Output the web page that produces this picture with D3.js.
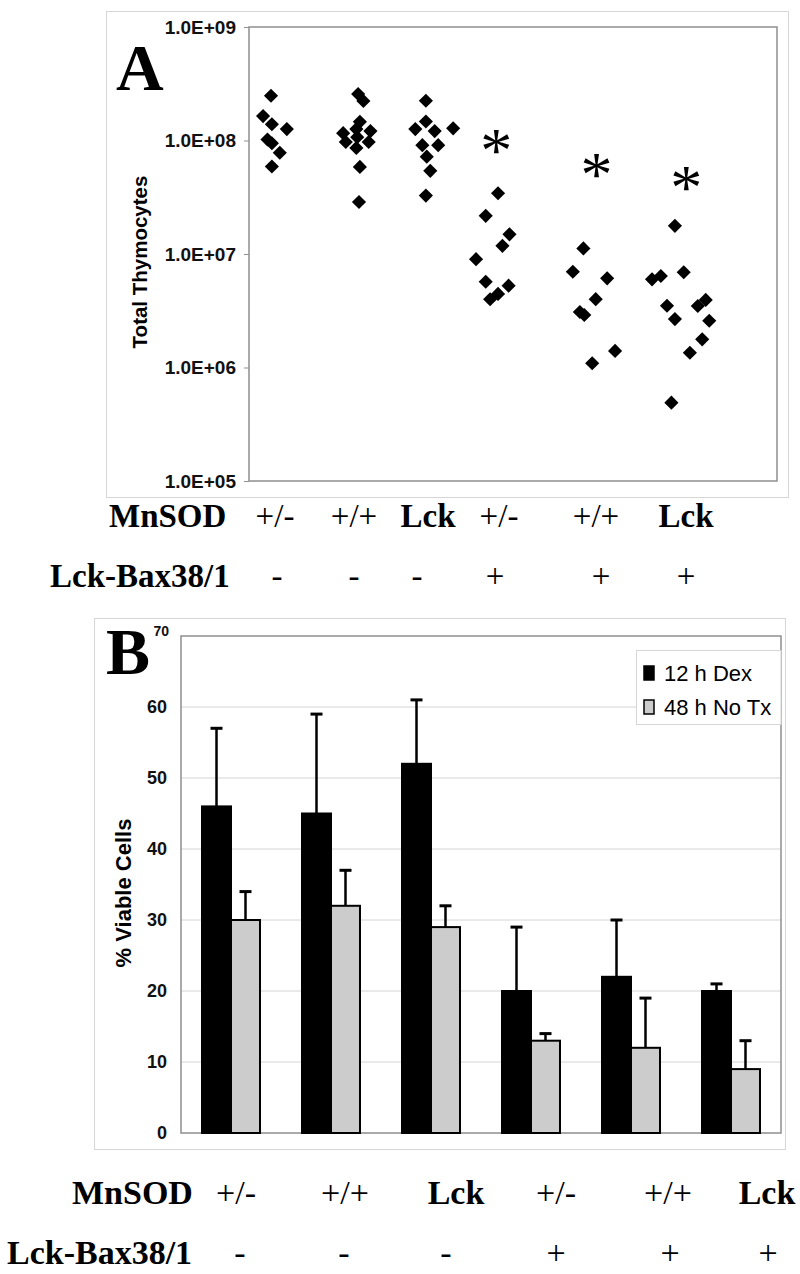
<!DOCTYPE html>
<html><head><meta charset="utf-8">
<script src="https://cdn.jsdelivr.net/npm/d3@7"></script>
<style>body{margin:0;background:#fff} svg{display:block}</style>
</head><body>
<svg id="c" width="800" height="1274"></svg>
<script>
// ---------- Panel A data ----------
const mnsodLabels = ["+/-","+/+","Lck","+/-","+/+","Lck"];
const baxLabels = ["-","-","-","+","+","+"];
const yTickValuesA = [1e5,1e6,1e7,1e8,1e9];
const yTickLabelsA = ["1.0E+05","1.0E+06","1.0E+07","1.0E+08","1.0E+09"];
// x = jittered group position, y = total thymocytes
const g1x = [0.25,0.16,0.26,0.43,0.21,0.26,0.35,0.26];
const g1y = [2.48e8,1.64e8,1.39e8,1.26e8,1.02e8,9.45e7,7.8e7,5.9e7];
const g2x = [1.24,1.30,1.26,1.07,1.38,1.22,1.10,1.36,1.23,1.22,1.26,1.25];
const g2y = [2.57e8,2.23e8,1.46e8,1.16e8,1.21e8,1.26e8,9.7e7,9.7e7,1.07e8,8.6e7,5.85e7,2.87e7];
const g3x = [2.01,2.01,1.89,2.11,2.32,1.97,2.15,2.02,2.06,2.01];
const g3y = [2.24e8,1.47e8,1.26e8,1.21e8,1.28e8,9.1e7,9.1e7,7.2e7,5.4e7,3.27e7];
const g4x = [2.83,2.69,2.96,2.88,2.58,2.69,2.95,2.83,2.74];
const g4y = [3.43e7,2.17e7,1.49e7,1.18e7,9.0e6,5.7e6,5.26e6,4.45e6,3.99e6];
const g5x = [3.80,3.68,4.07,3.94,3.76,3.81,4.16,3.90];
const g5y = [1.12e7,6.98e6,6.1e6,4.0e6,3.08e6,2.9e6,1.40e6,1.09e6];
const g6x = [4.84,4.94,4.58,4.68,4.75,4.84,5.10,5.19,5.23,5.15,5.01,4.80];
const g6y = [1.77e7,6.9e6,5.98e6,6.4e6,3.5e6,2.67e6,3.48e6,3.94e6,2.58e6,1.77e6,1.35e6,4.9e5];
const starX = [2.81,3.95,4.97];
const starY = [9.5e7,5.85e7,4.5e7];

// ---------- Panel B data ----------
const seriesB = ["12 h Dex","48 h No Tx"];
const dexMean = [46,45,52,20,22,20];
const dexErr  = [11,14,9,9,8,1];
const noTxMean = [30,32,29,13,12,9];
const noTxErr  = [4,5,3,1,7,4];
const yTicksB = [0,10,20,30,40,50,60,70];

// ---------- Layout ----------
const svg = d3.select("#c");
const SANS = "Arial, 'Liberation Sans', sans-serif";
const SERIF = "'Times New Roman', 'Liberation Serif', serif";

// ===== Panel A =====
const A = {left:249, right:777, top:27, bottom:481};
svg.append("rect").attr("x",106.5).attr("y",11.5).attr("width",682).attr("height",486)
  .attr("fill","none").attr("stroke","#d6d6d6").attr("stroke-width",1);
const xA = d3.scaleLinear().domain([0,6]).range([A.left,A.right]);
const yA = d3.scaleLog().domain([1e5,1e9]).range([A.bottom,A.top]);

svg.append("rect").attr("x",A.left).attr("y",A.top).attr("width",A.right-A.left).attr("height",A.bottom-A.top)
  .attr("fill","none").attr("stroke","#8f8f8f").attr("stroke-width",1.5);

const axA = svg.append("g").attr("transform",`translate(${A.left},0)`)
  .call(d3.axisLeft(yA).tickValues(yTickValuesA).tickFormat((d,i)=>yTickLabelsA[i]).tickSize(5).tickPadding(8));
axA.select(".domain").remove();
axA.selectAll(".tick line").attr("stroke","#8f8f8f");
axA.selectAll(".tick text").attr("font-family",SANS).attr("font-weight","bold").attr("font-size",19).attr("fill","#111");

svg.append("text").attr("transform","translate(147,262) rotate(-90)").attr("text-anchor","middle")
  .attr("font-family",SANS).attr("font-weight","bold").attr("font-size",20.5).text("Total Thymocytes");
svg.append("text").attr("x",116).attr("y",90).attr("font-family",SERIF).attr("font-weight","bold")
  .attr("font-size",66).text("A");

const groups = [[g1x,g1y],[g2x,g2y],[g3x,g3y],[g4x,g4y],[g5x,g5y],[g6x,g6y]];
const pts = groups.flatMap(([xs,ys]) => xs.map((x,i)=>({x, y:ys[i]})));
const diamond = d3.symbol().type(d3.symbolSquare).size(100);
svg.append("g").selectAll("path").data(pts).join("path")
  .attr("d",diamond)
  .attr("transform",d=>`translate(${xA(d.x)},${yA(d.y)}) rotate(45)`)
  .attr("fill","#000");

svg.append("g").selectAll("text").data(starX).join("text")
  .attr("x",d=>xA(d)).attr("y",(d,i)=>yA(starY[i])+29)
  .attr("text-anchor","middle").attr("font-family",SERIF).attr("font-size",64).text("*");

// category rows A
const rowA1 = [275,354,428,499,596,686];
const rowA2 = [277,354,417,495,601,686];
svg.append("text").attr("x",109).attr("y",527).attr("font-family",SERIF).attr("font-weight","bold").attr("font-size",33).text("MnSOD");
svg.append("text").attr("x",50).attr("y",587).attr("font-family",SERIF).attr("font-weight","bold").attr("font-size",33).text("Lck-Bax38/1");
svg.append("g").selectAll("text").data(mnsodLabels).join("text")
  .attr("x",(d,i)=>rowA1[i]).attr("y",527).attr("text-anchor","middle")
  .attr("font-family",SERIF).attr("font-weight",d=>d==="Lck"?"bold":"normal").attr("font-size",33).text(d=>d);
svg.append("g").selectAll("text").data(baxLabels).join("text")
  .attr("x",(d,i)=>rowA2[i]).attr("y",587).attr("text-anchor","middle")
  .attr("font-family",SERIF).attr("font-size",33).text(d=>d);

// ===== Panel B =====
const B = {left:181, right:781, top:636, bottom:1133};
svg.append("rect").attr("x",94.5).attr("y",618.5).attr("width",691).attr("height",531)
  .attr("fill","none").attr("stroke","#d6d6d6").attr("stroke-width",1);
const x0 = d3.scaleBand().domain(d3.range(6)).range([B.left,B.right]).paddingInner(0.42).paddingOuter(0.21);
const x1 = d3.scaleBand().domain([0,1]).range([0,x0.bandwidth()]);
const yB = d3.scaleLinear().domain([0,70]).range([B.bottom,B.top]);

svg.append("g").selectAll("line").data(yTicksB.filter(d=>d>0&&d<70)).join("line")
  .attr("x1",B.left).attr("x2",B.right).attr("y1",d=>yB(d)).attr("y2",d=>yB(d))
  .attr("stroke","#d4d4d4").attr("stroke-width",1);
svg.append("rect").attr("x",B.left).attr("y",B.top).attr("width",B.right-B.left).attr("height",B.bottom-B.top)
  .attr("fill","none").attr("stroke","#8f8f8f").attr("stroke-width",1.5);

const axB = svg.append("g").attr("transform",`translate(${B.left},0)`)
  .call(d3.axisLeft(yB).tickValues(yTicksB).tickSize(0).tickPadding(14));
axB.select(".domain").remove();
axB.selectAll(".tick text").attr("font-family",SANS).attr("font-weight","bold")
  .attr("font-size",d=>d===70?14:18).attr("fill","#111");
axB.selectAll(".tick").filter(d=>d===70).select("text").attr("dy","-0.05em").attr("x",-12);

svg.append("text").attr("transform","translate(131,893) rotate(-90)").attr("text-anchor","middle")
  .attr("font-family",SANS).attr("font-weight","bold").attr("font-size",22).text("% Viable Cells");
svg.append("text").attr("x",106).attr("y",674).attr("font-family",SERIF).attr("font-weight","bold")
  .attr("font-size",66).text("B");

const barData = d3.range(6).flatMap(i=>[
  {g:i,s:0,v:dexMean[i],e:dexErr[i]},
  {g:i,s:1,v:noTxMean[i],e:noTxErr[i]}]);
const colors = ["#000","#cccccc"];
const bars = svg.append("g");
bars.selectAll("rect").data(barData).join("rect")
  .attr("x",d=>x0(d.g)+x1(d.s)).attr("width",x1.bandwidth())
  .attr("y",d=>yB(d.v)).attr("height",d=>yB(0)-yB(d.v))
  .attr("fill",d=>colors[d.s]).attr("stroke","#000").attr("stroke-width",2);
const eb = svg.append("g").attr("stroke","#000").attr("stroke-width",2.5);
eb.selectAll("line.v").data(barData).join("line").attr("class","v")
  .attr("x1",d=>x0(d.g)+x1(d.s)+x1.bandwidth()/2).attr("x2",d=>x0(d.g)+x1(d.s)+x1.bandwidth()/2)
  .attr("y1",d=>yB(d.v)).attr("y2",d=>yB(d.v+d.e));
eb.selectAll("line.c").data(barData).join("line").attr("class","c")
  .attr("x1",d=>x0(d.g)+x1(d.s)+x1.bandwidth()/2-6).attr("x2",d=>x0(d.g)+x1(d.s)+x1.bandwidth()/2+6)
  .attr("y1",d=>yB(d.v+d.e)).attr("y2",d=>yB(d.v+d.e)).attr("stroke-width",3);

// legend
const lg = svg.append("g");
lg.append("rect").attr("x",636.5).attr("y",650.5).attr("width",B.right-636.5).attr("height",74)
  .attr("fill","#fff").attr("stroke","#d6d6d6");
seriesB.forEach((s,i)=>{
  const yy = 666 + i*34;
  lg.append("rect").attr("x",644).attr("y",yy).attr("width",10).attr("height",14)
    .attr("fill",colors[i]).attr("stroke","#000").attr("stroke-width",1.5);
  lg.append("text").attr("x",664).attr("y",yy+15).attr("font-family",SANS).attr("font-size",22).text(s);
});

// category rows B
const rowB1 = [236,345,456,556,668,767];
const rowB2 = [240,344,446,556,670,768];
svg.append("text").attr("x",72).attr("y",1204).attr("font-family",SERIF).attr("font-weight","bold").attr("font-size",34).text("MnSOD");
svg.append("text").attr("x",7).attr("y",1264).attr("font-family",SERIF).attr("font-weight","bold").attr("font-size",34).text("Lck-Bax38/1");
svg.append("g").selectAll("text").data(mnsodLabels).join("text")
  .attr("x",(d,i)=>rowB1[i]).attr("y",1204).attr("text-anchor","middle")
  .attr("font-family",SERIF).attr("font-weight",d=>d==="Lck"?"bold":"normal").attr("font-size",34).text(d=>d);
svg.append("g").selectAll("text").data(baxLabels).join("text")
  .attr("x",(d,i)=>rowB2[i]).attr("y",1264).attr("text-anchor","middle")
  .attr("font-family",SERIF).attr("font-size",34).text(d=>d);
</script>
</body></html>
